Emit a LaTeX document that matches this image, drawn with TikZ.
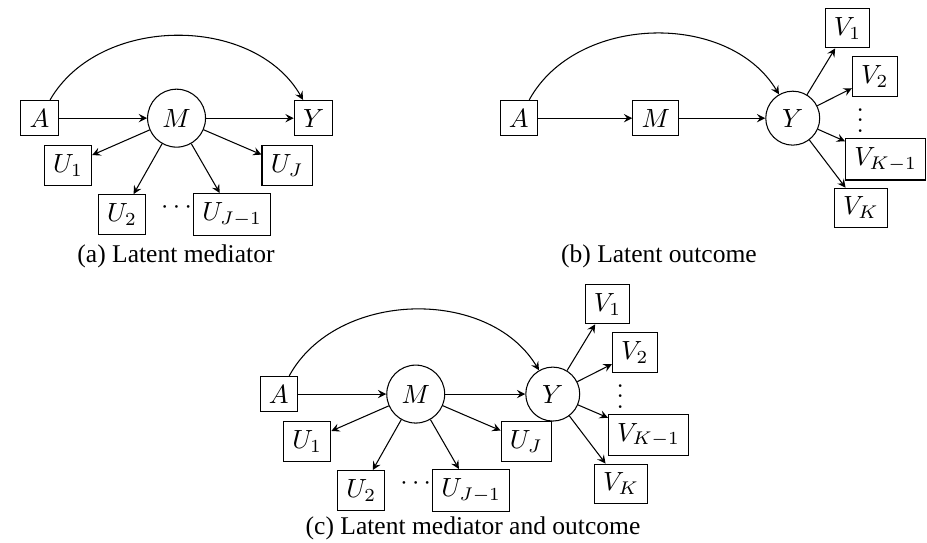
\documentclass[tikz,border=0pt]{standalone}
\usepackage[no-math]{fontspec}
\newfontfamily\capfont{Liberation Serif}
\begin{document}
\begin{tikzpicture}
  [node distance=1.83cm,>=stealth,
   obs/.style={draw,rectangle,minimum width=14pt},
   lat/.style={draw,circle,minimum size=20.5pt},
   vdotsbox/.style={inner sep=0pt,text height=9.1pt,text depth=0pt},
   subcap/.style={anchor=base,font=\capfont\fontsize{9.7}{11}\selectfont}]
  \useasboundingbox (0,0) rectangle (12.38,7.24);

  \node (aA) [obs] at (0.528,5.662) {$A$};
  \node (aM) [lat,right of=aA] {$M$};
  \node (aY) [obs,right of=aM] {$Y$};
  \node (aU1) [obs] at ([shift={(-1.45,-0.634)}]aM) {$U_1$};
  \node (aU2) [obs] at ([shift={(-0.727,-1.285)}]aM) {$U_2$};
  \node (aUm) [obs] at ([shift={(0.741,-1.285)}]aM) {$U_{J-1}$};
  \node (aUJ) [obs] at ([shift={(1.476,-0.634)}]aM) {$U_J$};
  \node (adots) at ([shift={(0,-1.19)}]aM) {$\cdots$};
  \node (acap) [subcap] at (2.35,3.74) {(a) Latent mediator};

  \node (bA) [obs] at (6.927,5.662) {$A$};
  \node (bM) [obs,right of=bA] {$M$};
  \node (bY) [lat,right of=bM] {$Y$};
  \node (bV1) [obs] at ([shift={(0.731,1.202)}]bY) {$V_1$};
  \node (bV2) [obs] at ([shift={(1.095,0.554)}]bY) {$V_2$};
  \node (bdots) [vdotsbox] at ([shift={(0.901,-0.03)}]bY) {$\vdots$};
  \node (bVm) [obs] at ([shift={(1.24,-0.548)}]bY) {$V_{K-1}$};
  \node (bVK) [obs] at ([shift={(0.911,-1.199)}]bY) {$V_K$};
  \node (bcap) [subcap] at (8.80,3.74) {(b) Latent outcome};

  \node (cA) [obs] at (3.722,1.977) {$A$};
  \node (cM) [lat,right of=cA] {$M$};
  \node (cY) [lat,right of=cM] {$Y$};
  \node (cU1) [obs] at ([shift={(-1.45,-0.634)}]cM) {$U_1$};
  \node (cU2) [obs] at ([shift={(-0.727,-1.285)}]cM) {$U_2$};
  \node (cUm) [obs] at ([shift={(0.741,-1.285)}]cM) {$U_{J-1}$};
  \node (cUJ) [obs] at ([shift={(1.476,-0.634)}]cM) {$U_J$};
  \node (cdots) at ([shift={(0,-1.19)}]cM) {$\cdots$};
  \node (cV1) [obs] at ([shift={(0.731,1.202)}]cY) {$V_1$};
  \node (cV2) [obs] at ([shift={(1.095,0.554)}]cY) {$V_2$};
  \node (cvdots) [vdotsbox] at ([shift={(0.901,-0.03)}]cY) {$\vdots$};
  \node (cVm) [obs] at ([shift={(1.279,-0.548)}]cY) {$V_{K-1}$};
  \node (cVK) [obs] at ([shift={(0.911,-1.199)}]cY) {$V_K$};
  \node (ccap) [subcap] at (6.317,0.107) {(c) Latent mediator and outcome};

\foreach \from/\to in
{aA/aM, aM/aY, aM/aU1, aM/aU2, aM/aUm, aM/aUJ,
 bA/bM, bM/bY, bY/bV1, bY/bV2, bY/bVm, bY/bVK,
 cA/cM, cM/cY, cM/cU1, cM/cU2, cM/cUm, cM/cUJ, cY/cV1, cY/cV2, cY/cVm, cY/cVK}
    \draw[->] (\from) -- (\to);
\foreach \from/\to in
{aA/aY, bA/bY, cA/cY}
    \draw[->] (\from) to[bend left=60] (\to);
\end{tikzpicture}
\end{document}
